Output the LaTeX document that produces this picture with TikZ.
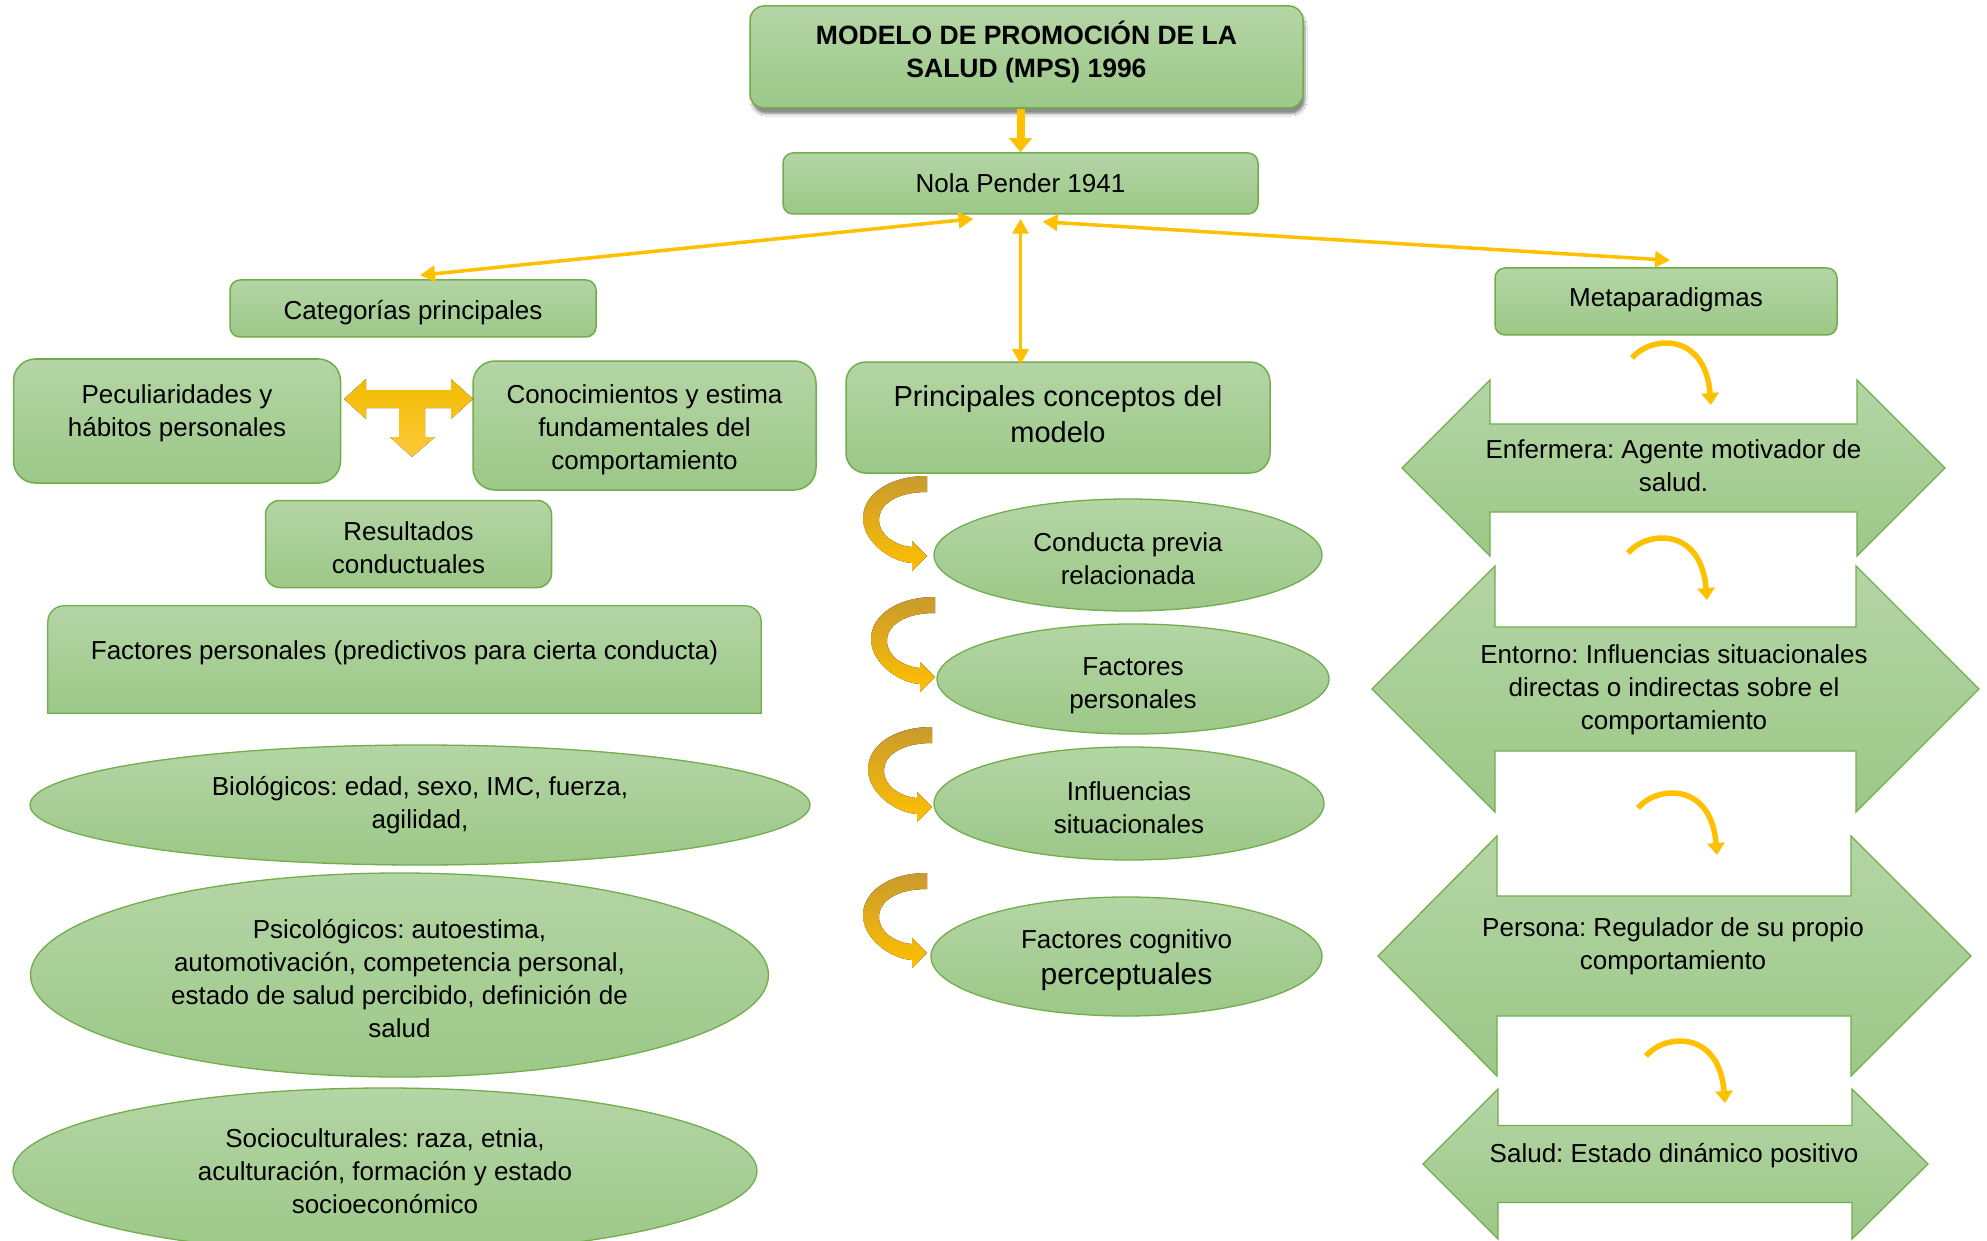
\documentclass[tikz,border=0pt]{standalone}
\usepackage{fontspec}
\setmainfont{Liberation Sans}
\usetikzlibrary{arrows.meta, shapes.geometric, shadows.blur, calc}
\frenchspacing
\definecolor{leaftop}{HTML}{B4D5A5}
\definecolor{leafbot}{HTML}{9CC888}
\definecolor{leafline}{HTML}{72AD4C}
\definecolor{gold}{HTML}{FFC000}
\definecolor{golddark}{HTML}{C99A2E}
\definecolor{goldbar}{HTML}{F0BC00}
\definecolor{goldlight}{HTML}{FFC83A}
% extra room above the first line of a label
\newcommand{\topfill}{\rule{0pt}{1.04em}}
% curved band arrow, #1,#2 = top right corner of its tail
\newcommand{\curlarrow}[2]{%
  \fill[top color=golddark, bottom color=gold]
    (#1,#2) .. controls (#1-40,#2) and (#1-64,#2+20) .. (#1-64,#2+42)
    .. controls (#1-64,#2+66) and (#1-36,#2+86) .. (#1-15,#2+87)
    -- (#1-15,#2+95) -- (#1,#2+80) -- (#1-15,#2+65) -- (#1-15,#2+71)
    .. controls (#1-30,#2+70) and (#1-48,#2+60) .. (#1-48,#2+44)
    .. controls (#1-48,#2+28) and (#1-30,#2+16) .. (#1,#2+16) -- cycle;}
% left-right arrow: tips, shaft ends, centre y, shaft half, head half
\newcommand{\dblarrow}[7]{%
  \path[wide] (#1,#5) -- (#2,#5-#7) -- (#2,#5-#6) -- (#3,#5-#6)
    -- (#3,#5-#7) -- (#4,#5) -- (#3,#5+#7) -- (#3,#5+#6)
    -- (#2,#5+#6) -- (#2,#5+#7) -- cycle;}
\tikzset{
  box/.style={rectangle, rounded corners=14pt, draw=leafline,
              line width=1.5pt, top color=leaftop, bottom color=leafbot,
              align=center, inner sep=0pt,
              font=\fontsize{26}{33}\selectfont},
  oval/.style={ellipse, draw=leafline, line width=1.3pt,
               top color=leaftop, bottom color=leafbot,
               align=center, inner sep=0pt,
               font=\fontsize{26}{33}\selectfont},
  txt/.style={align=center, inner sep=0pt,
              font=\fontsize{26}{33}\selectfont},
  wide/.style={draw=leafline, line width=1.3pt,
               top color=leaftop, bottom color=leafbot},
  link/.style={{Triangle[length=15pt,width=16pt]}-{Triangle[length=15pt,width=16pt]},
               draw=gold, line width=3.5pt},
  feed/.style={-{Triangle[length=14pt,width=22pt]}, draw=gold, line width=8pt},
  curl/.style={-{Triangle[length=12pt,width=17pt]}, draw=gold, line width=5.5pt},
}
\begin{document}
\begin{tikzpicture}[x=1pt, y=-1pt]
  \fill[white] (0,0) rectangle (1987,1241);
  \useasboundingbox (0,0) rectangle (1987,1241);

  %% Top
  \node[box, minimum width=553pt, minimum height=102pt,
        font=\fontsize{26.5}{33}\selectfont\bfseries,
        blur shadow={shadow xshift=2pt, shadow yshift=-6pt,
                     shadow blur steps=6, shadow opacity=45}]
    (title) at (1026.5,57)
    {MODELO DE PROMOCIÓN DE LA\\SALUD (MPS) 1996\rule[-15.6pt]{0pt}{0pt}};
  \node[box, minimum width=475pt, minimum height=61pt, rounded corners=10pt]
    (nola) at (1020.5,183.5) {Nola Pender 1941};

  %% Left column
  \node[box, minimum width=366pt, minimum height=57pt, rounded corners=10pt]
    (categorias) at (413,308.5) {\topfill Categorías principales};
  \node[box, minimum width=327pt, minimum height=124pt, rounded corners=22pt]
    (peculiar) at (177,421) {};
  \node[txt] (peculiartxt) at (177,413) {Peculiaridades y\\hábitos personales};
  \node[box, minimum width=343pt, minimum height=129pt, rounded corners=22pt]
    (conocim) at (644.5,425.5)
    {\topfill Conocimientos y estima\\fundamentales del\\comportamiento};
  \node[box, minimum width=286pt, minimum height=87pt]
    (resultados) at (408.5,544) {\topfill Resultados\\conductuales};

  \node[minimum width=713pt, minimum height=107pt, inner sep=0pt]
    (factores) at (404.5,659.5) {};
  \path[wide] (factores.south west) [rounded corners=16pt]
    -- (factores.north west) -- (factores.north east) [sharp corners]
    -- (factores.south east) -- cycle;
  \node[txt] (factorestxt) at (404.5,653)
    {Factores personales (predictivos para cierta conducta)};

  \node[oval, minimum width=780pt, minimum height=120pt]
    (biologicos) at (420,805) {Biológicos: edad, sexo, IMC, fuerza,\\agilidad,};
  \node[oval, minimum width=738pt, minimum height=204pt]
    (psicologicos) at (399.5,975)
    {\topfill Psicológicos: autoestima,\\automotivación, competencia personal,\\estado de salud percibido, definición de\\salud};
  \node[oval, minimum width=744pt, minimum height=166pt]
    (socio) at (385,1171)
    {Socioculturales: raza, etnia,\\aculturación, formación y estado\\socioeconómico};

  %% T arrow between the two boxes
  \fill[top color=goldbar, bottom color=goldlight]
    (344,399) -- (366,379) -- (366,390) -- (451,390) -- (451,379)
    -- (473,399) -- (451,419) -- (451,408) -- (425,408) -- (425,437)
    -- (435,437) -- (412,457) -- (390,437) -- (399,437) -- (399,408)
    -- (366,408) -- (366,419) -- cycle;

  %% Middle column
  \node[box, minimum width=424pt, minimum height=111pt, rounded corners=20pt,
        font=\fontsize{29}{36}\selectfont]
    (principales) at (1058,417.5)
    {Principales conceptos del\\modelo\rule[-8pt]{0pt}{0pt}};
  \node[oval, minimum width=388pt, minimum height=112pt]
    (conducta) at (1128,555) {\topfill Conducta previa\\relacionada};
  \node[oval, minimum width=392pt, minimum height=110pt]
    (factpers) at (1133,679) {\rule{0pt}{1.2em}Factores\\personales};
  \node[oval, minimum width=390pt, minimum height=113pt]
    (influencias) at (1129,803.5) {\topfill Influencias\\situacionales};
  \node[oval, minimum width=391pt, minimum height=119pt]
    (cognitivo) at (1126.5,956.5)
    {\topfill Factores cognitivo\\[3pt]{\fontsize{30}{36}\selectfont perceptuales}};
  \curlarrow{927}{476}
  \curlarrow{935}{597}
  \curlarrow{932}{727}
  \curlarrow{927}{873}

  %% Right column
  \node[box, minimum width=342pt, minimum height=67pt, rounded corners=10pt]
    (meta) at (1666,301.5) {Metaparadigmas\rule[-9.5pt]{0pt}{0pt}};
  \dblarrow{1402}{1490}{1857}{1945}{468}{44}{88}
  \node[txt] (enfermera) at (1673.5,466) {Enfermera: Agente motivador de\\salud.};
  \dblarrow{1372}{1495}{1856}{1979}{689}{62}{123}
  \node[txt] (entorno) at (1674,690)
    {Entorno: Influencias situacionales\\directas o indirectas sobre el\\comportamiento};
  \dblarrow{1378}{1497}{1851}{1971}{956}{60}{120}
  \node[txt] (persona) at (1673,946) {Persona: Regulador de su propio\\comportamiento};
  \dblarrow{1423}{1498}{1852}{1928}{1164}{38.5}{75}
  \node[txt] (salud) at (1674,1156) {Salud: Estado dinámico positivo};

  \coordinate (s1a) at (1632,358);  \coordinate (s1b) at (1711,405);
  \coordinate (s2a) at (1628,553);  \coordinate (s2b) at (1707,600);
  \coordinate (s3a) at (1638,808);  \coordinate (s3b) at (1717,855);
  \coordinate (s4a) at (1646,1056); \coordinate (s4b) at (1725,1103);
  \draw[curl] (s1a) .. controls (1650,336) and (1705,331) .. (s1b);
  \draw[curl] (s2a) .. controls (1646,531) and (1701,526) .. (s2b);
  \draw[curl] (s3a) .. controls (1656,786) and (1711,781) .. (s3b);
  \draw[curl] (s4a) .. controls (1664,1034) and (1719,1029) .. (s4b);

  %% Connectors
  \draw[feed] (title.south -| nola.north) -- (nola.north);
  \draw[link] ([xshift=7pt,yshift=4pt]categorias.north)
    -- ([xshift=-47pt,yshift=-4pt]nola.south);
  \draw[link] ([yshift=-4pt]nola.south)
    -- ([yshift=-3pt]nola.south |- principales.north);
  \draw[link] ([xshift=22pt,yshift=-7pt]nola.south)
    -- ([xshift=4pt,yshift=7pt]meta.north);

\end{tikzpicture}
\end{document}
